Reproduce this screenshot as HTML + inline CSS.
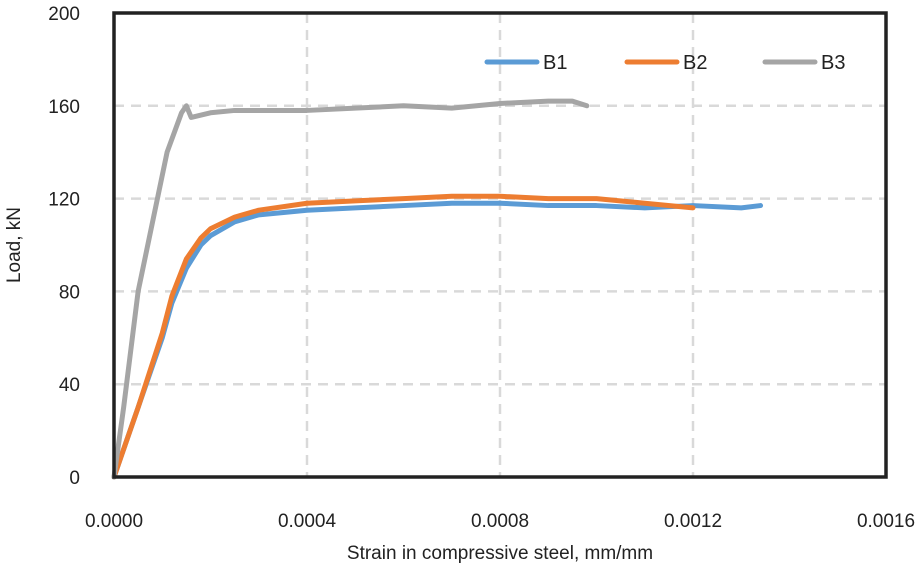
<!DOCTYPE html>
<html><head><meta charset="utf-8"><style>
html,body{margin:0;padding:0;background:#fff}
svg text{font-family:"Liberation Sans",sans-serif;fill:#222}
</style></head><body>
<svg id="chart" width="921" height="569" xmlns="http://www.w3.org/2000/svg"></svg>
<script>
const xTicks=[0,0.0004,0.0008,0.0012,0.0016];
const xTickLabels=["0.0000","0.0004","0.0008","0.0012","0.0016"];
const yTicks=[0,40,80,120,160,200];
const b1X=[0,0.00005,0.0001,0.00012,0.00015,0.00018,0.0002,0.00025,0.0003,0.0004,0.0005,0.0006,0.0007,0.0008,0.0009,0.001,0.0011,0.0012,0.0013,0.00134];
const b1Y=[0,30,60,75,90,100,104,110,113,115,116,117,118,118,117,117,116,117,116,117];
const b2X=[0,0.00005,0.0001,0.00012,0.00015,0.00018,0.0002,0.00025,0.0003,0.0004,0.0005,0.0006,0.0007,0.0008,0.0009,0.001,0.0011,0.0012];
const b2Y=[0,30,62,78,94,103,107,112,115,118,119,120,121,121,120,120,118,116];
const b3X=[0,0.00002,0.00005,0.00008,0.00011,0.00014,0.00015,0.00016,0.0002,0.00025,0.0003,0.0004,0.0005,0.0006,0.0007,0.0008,0.0009,0.00095,0.00098];
const b3Y=[0,30,80,110,140,157,160,155,157,158,158,158,159,160,159,161,162,162,160];
const seriesNames=["B1","B2","B3"];
const colors=["#5b9bd5","#ed7d31","#a5a5a5"];
const L=114,R=886,T=13,B=477;
const xs=v=>L+(v/0.0016)*(R-L);
const ys=v=>B-(v/200)*(B-T);
const svg=document.getElementById('chart');
const NS="http://www.w3.org/2000/svg";
function mk(tag,attrs,txt){const e=document.createElementNS(NS,tag);for(const k in attrs)e.setAttribute(k,attrs[k]);if(txt!==undefined)e.textContent=txt;svg.appendChild(e);return e;}
xTicks.forEach((t,i)=>{
  if(i>0&&i<xTicks.length-1){const g=mk('line',{x1:xs(t),x2:xs(t),y1:T,y2:B,stroke:'#d9d9d9','stroke-width':2.5,'stroke-dasharray':'10,7'});
  
  }
  const l=mk('text',{x:xs(t),y:527,'text-anchor':'middle','font-size':19},xTickLabels[i]);
  
  
});
yTicks.forEach((t,i)=>{
  if(i>0&&i<yTicks.length-1){const g=mk('line',{x1:L,x2:R,y1:ys(t),y2:ys(t),stroke:'#d9d9d9','stroke-width':2.5,'stroke-dasharray':'10,7'});
  
  }
  const l=mk('text',{x:80,y:ys(t)+7,'text-anchor':'end','font-size':19},String(t));
  
  
});
const data=[[b1X,b1Y],[b2X,b2Y],[b3X,b3Y]];
data.forEach((d,s)=>{
  const pts=d[0].map((x,i)=>xs(x)+','+ys(d[1][i])).join(' ');
  const p=mk('polyline',{points:pts,fill:'none',stroke:colors[s],'stroke-width':5,'stroke-linejoin':'round','stroke-linecap':'round'});
  
  
});
const box=mk('rect',{x:L,y:T,width:R-L,height:B-T,fill:'none',stroke:'#222','stroke-width':3.5});


const legX=[487,627,765];
seriesNames.forEach((n,s)=>{
  const ln=mk('line',{x1:legX[s],x2:legX[s]+50,y1:62,y2:62,stroke:colors[s],'stroke-width':5,'stroke-linecap':'round'});
  
  
  const t=mk('text',{x:legX[s]+56,y:69,'font-size':20},n);
  
  
});
const xt=mk('text',{x:500,y:559,'text-anchor':'middle','font-size':19},'Strain in compressive steel, mm/mm');


const yt=mk('text',{x:0,y:0,'text-anchor':'middle','font-size':19,transform:'translate(20,245) rotate(-90)'},'Load, kN');


</script>
</body></html>
